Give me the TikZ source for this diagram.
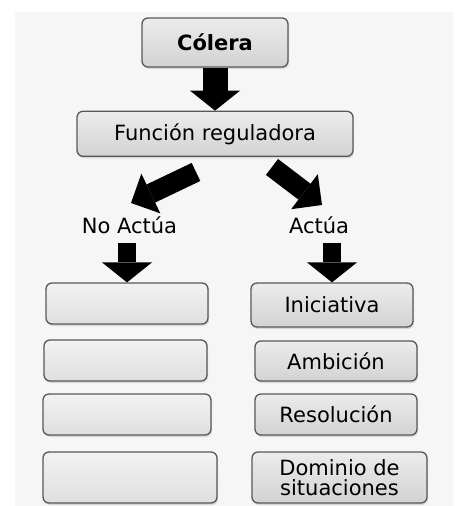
\documentclass[tikz,border=0pt]{standalone}
\usepackage{fontspec}
\setmainfont{DejaVu Sans}
\usetikzlibrary{arrows.meta, positioning, shadows}
\definecolor{boxedge}{RGB}{88, 88, 88}
\definecolor{pagegray}{RGB}{246, 246, 246}

\begin{document}
\begin{tikzpicture}[
    x=1pt, y=-1pt,
    node distance=14pt,
    box/.style={rectangle, draw=boxedge, line width=1.3pt, rounded corners=6pt, top color=gray!15, middle color=white, bottom color=gray!35, drop shadow={shadow xshift=1pt, shadow yshift=-2pt, opacity=0.25}, minimum width=162pt, minimum height=41pt, align=center, inner sep=2pt, font=\fontsize{21}{20}\selectfont},
    emptybox/.style={box, top color=gray!10, middle color=white, bottom color=gray!25},
    branch/.style={font=\fontsize{21}{22}\selectfont, inner sep=1pt},
    bigarrow/.style={-{Triangle[width=50pt, length=20pt, line width=0pt]}, line width=18pt}
]

% Page
\fill[pagegray] (15,12) rectangle (453,506);
\useasboundingbox (0,0) rectangle (459,506);

% Main components
\node[box, font=\fontsize{21}{22}\selectfont\bfseries, minimum width=146pt, minimum height=49pt] (colera) at (215,42.5) {Cólera};
\node[box, minimum width=276pt, minimum height=45pt, below=43pt of colera] (funcion) {Función reguladora};

% Branches
\node[branch] (noact) at (129.5,225) {No Actúa};
\node[branch] (actua) at (319,225) {Actúa};

% Left column
\node[emptybox] (l1) at (127,303.5) {};
\node[emptybox, minimum width=163pt] (l2) at (125.5,360.5) {};
\node[emptybox, minimum width=168pt] (l3) at (127,414.5) {};
\node[emptybox, minimum width=174pt, minimum height=51pt] (l4) at (130,477.5) {};

% Right column
\node[box, minimum height=44pt] (r1) at (332,305) {Iniciativa};
\node[box, minimum height=40pt] (r2) at (336,361) {Ambición};
\node[box] (r3) at (336,414.5) {Resolución};
\node[box, minimum width=175pt, minimum height=51pt] (r4) at (339.5,477.5) {Dominio de\\situaciones};

% Arrows
\draw[bigarrow, line width=25pt] (colera) -- (funcion);
\draw[bigarrow, line width=20pt, -{Triangle[width=44pt, length=22pt, line width=0pt]}] ([shift={(-19,15)}]funcion.south) -- ([shift={(1.5,-22)}]noact.center);
\draw[bigarrow, line width=20pt, -{Triangle[width=44pt, length=22pt, line width=0pt]}] ([shift={(57,10)}]funcion.south) -- ([shift={(3,-20)}]actua.center);
\draw[bigarrow, shorten <=8pt] (noact.south -| l1.north) -- (l1.north);
\draw[bigarrow, shorten <=8pt] (actua.south -| r1.north) -- (r1.north);

\end{tikzpicture}
\end{document}
